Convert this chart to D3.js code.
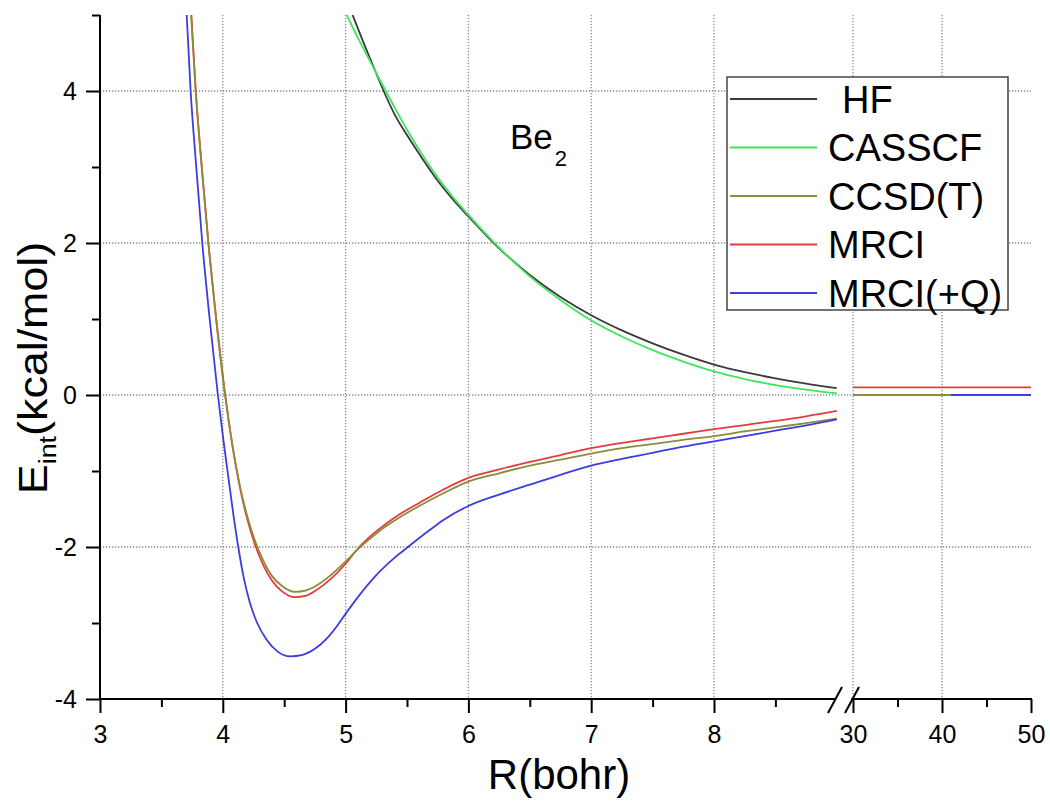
<!DOCTYPE html>
<html>
<head>
<meta charset="utf-8">
<script src="https://cdn.jsdelivr.net/npm/d3@7"></script>
<style>
  html, body { margin: 0; padding: 0; background: #fff; }
  svg { display: block; font-family: "Liberation Sans", Arial, Helvetica, sans-serif; }
</style>
</head>
<body>
<svg id="chart" width="1050" height="803"></svg>
<script>
// ---- data (R in bohr, E in kcal/mol) ----
const seriesNames = ["HF", "CASSCF", "CCSD(T)", "MRCI", "MRCI(+Q)"];
const seriesColors = ["#3a3a3a", "#3ee65a", "#8c8c3c", "#e43c3c", "#3c3ce0"];

const hfShort = [[5.057,5.0],[5.15,4.62],[5.25,4.23],[5.31,4.0],[5.4,3.69],[5.5,3.42],[5.625,3.11],[5.75,2.82],[5.875,2.57],[6.0,2.35],[6.25,1.93],[6.5,1.58],[6.75,1.29],[7.0,1.05],[7.25,0.85],[7.5,0.68],[7.75,0.53],[8.0,0.40],[8.25,0.30],[8.5,0.22],[8.75,0.15],[9.0,0.09]];
const casscfShort = [[5.009,5.0],[5.1,4.70],[5.2,4.39],[5.31,4.05],[5.4,3.78],[5.5,3.49],[5.625,3.16],[5.75,2.86],[5.875,2.60],[6.0,2.37],[6.25,1.94],[6.5,1.56],[6.75,1.25],[7.0,0.98],[7.25,0.77],[7.5,0.59],[7.75,0.44],[8.0,0.31],[8.25,0.21],[8.5,0.13],[8.75,0.07],[9.0,0.02]];
const ccsdtShort = [[3.742,5.0],[3.779,4.0],[3.828,3.0],[3.882,2.0],[3.945,1.0],[4.018,0.0],[4.078,-0.66],[4.138,-1.19],[4.2,-1.60],[4.26,-1.91],[4.33,-2.18],[4.40,-2.38],[4.48,-2.51],[4.588,-2.59],[4.68,-2.57],[4.76,-2.51],[4.88,-2.37],[5.0,-2.19],[5.1,-2.03],[5.2,-1.89],[5.3,-1.76],[5.45,-1.60],[5.6,-1.46],[5.8,-1.29],[6.0,-1.14],[6.25,-1.03],[6.5,-0.93],[6.75,-0.85],[7.0,-0.77],[7.25,-0.70],[7.5,-0.645],[7.75,-0.59],[8.0,-0.54],[8.25,-0.48],[8.5,-0.425],[8.75,-0.37],[9.0,-0.31]];
const mrciShort = [[3.744,5.0],[3.78,4.0],[3.829,3.0],[3.883,2.0],[3.947,1.0],[4.02,0.0],[4.08,-0.68],[4.14,-1.22],[4.2,-1.64],[4.26,-1.96],[4.33,-2.24],[4.40,-2.44],[4.48,-2.58],[4.588,-2.66],[4.68,-2.64],[4.76,-2.57],[4.88,-2.42],[5.0,-2.22],[5.1,-2.02],[5.2,-1.86],[5.3,-1.73],[5.45,-1.56],[5.6,-1.42],[5.8,-1.24],[6.0,-1.09],[6.25,-0.98],[6.5,-0.88],[6.75,-0.79],[7.0,-0.70],[7.25,-0.63],[7.5,-0.57],[7.75,-0.51],[8.0,-0.45],[8.25,-0.395],[8.5,-0.34],[8.75,-0.28],[9.0,-0.21]];
const mrciqShort = [[3.706,5.0],[3.738,4.0],[3.784,3.0],[3.833,2.0],[3.893,1.0],[3.96,0.0],[4.0,-0.53],[4.045,-1.08],[4.085,-1.56],[4.126,-2.0],[4.17,-2.40],[4.22,-2.73],[4.28,-3.0],[4.357,-3.22],[4.45,-3.38],[4.547,-3.44],[4.65,-3.42],[4.75,-3.34],[4.85,-3.20],[4.93,-3.04],[5.0,-2.88],[5.1,-2.66],[5.25,-2.37],[5.4,-2.14],[5.5,-2.01],[5.65,-1.82],[5.8,-1.64],[6.0,-1.46],[6.25,-1.31],[6.5,-1.18],[6.75,-1.05],[7.0,-0.93],[7.25,-0.84],[7.5,-0.76],[7.75,-0.68],[8.0,-0.61],[8.25,-0.54],[8.5,-0.47],[8.75,-0.40],[9.0,-0.32]];

const hfLong = [[30,0],[40,0],[50,0]];
const casscfLong = [[30,0],[40,0],[50,0]];
const ccsdtLong = [[30,0],[40,0],[50,0]];
const mrciLong = [[30,0.1],[40,0.1],[50,0.1]];
const mrciqLong = [[41,0],[50,0]];

const xTicksShort = [3,4,5,6,7,8];
const xMinorShort = [3.5,4.5,5.5,6.5,7.5,8.5];
const xTicksLong = [30,40,50];
const xMinorLong = [35,45];
const yTicks = [-4,-2,0,2,4];
const yMinor = [-3,-1,1,3,5];
const xGridShort = [4,5,6,7,8];
const xGridLong = [30,40];
const yGrid = [-2,0,2,4];

(function draw() {
// ---- layout ----
const svg = d3.select("#chart");
const pLeft = 100, pBottom = 699, pTop = 15;
const x1 = d3.scaleLinear().domain([3, 9]).range([pLeft, 836.8]);
const x2 = d3.scaleLinear().domain([30, 50]).range([853, 1031]);
const y = d3.scaleLinear().domain([-4, 5]).range([pBottom, pTop]);

svg.append("rect").attr("width",1050).attr("height",803).attr("fill","#fff");

const defs = svg.append("defs");
defs.append("clipPath").attr("id","clip1").append("rect")
  .attr("x", pLeft).attr("y", pTop).attr("width", x1(9) - pLeft + 1).attr("height", pBottom - pTop);

// grid
const grid = svg.append("g").attr("stroke","#8a8a8a").attr("stroke-width",1.3)
  .attr("stroke-dasharray","1.3,1.7").attr("fill","none");
xGridShort.forEach(v => grid.append("line").attr("x1",x1(v)).attr("x2",x1(v)).attr("y1",pTop).attr("y2",pBottom));
xGridLong.forEach(v => grid.append("line").attr("x1",x2(v)).attr("x2",x2(v)).attr("y1",pTop).attr("y2",pBottom));
yGrid.forEach(v => grid.append("line").attr("x1",pLeft).attr("x2",x2(50)).attr("y1",y(v)).attr("y2",y(v)));

// curves
const shortSets = [hfShort, casscfShort, mrciShort, ccsdtShort, mrciqShort];
const longSets = [hfLong, casscfLong, ccsdtLong, mrciLong, mrciqLong];
const shortColorIdx = [0,1,3,2,4];
const longColorIdx = [0,1,2,3,4];
const line1 = d3.line().x(d => x1(d[0])).y(d => y(d[1])).curve(d3.curveMonotoneX);
const line2 = d3.line().x(d => x2(d[0])).y(d => y(d[1]));
const curves = svg.append("g").attr("clip-path","url(#clip1)");
shortSets.forEach((s,i) => curves.append("path").attr("d", line1(s)).attr("fill","none")
  .attr("stroke", seriesColors[shortColorIdx[i]]).attr("stroke-width",1.8));
longSets.forEach((s,i) => svg.append("path").attr("d", line2(s)).attr("fill","none")
  .attr("stroke", seriesColors[longColorIdx[i]]).attr("stroke-width",1.8));

// axes
const axisG = svg.append("g").attr("stroke","#000").attr("stroke-width",2);
axisG.append("line").attr("x1",pLeft).attr("x2",pLeft).attr("y1",pTop).attr("y2",pBottom+1);
axisG.append("line").attr("x1",pLeft-1).attr("x2",835).attr("y1",pBottom).attr("y2",pBottom);
axisG.append("line").attr("x1",851).attr("x2",x2(50)+1).attr("y1",pBottom).attr("y2",pBottom);
[835, 852].forEach(c => axisG.append("line").attr("x1",c-7).attr("y1",pBottom+14).attr("x2",c+7).attr("y2",pBottom-12));

const fmt = d => String(d);
function yAxis(vals, size, labels) {
  const a = d3.axisLeft(y).tickValues(vals).tickSize(size).tickSizeOuter(0).tickPadding(9);
  a.tickFormat(labels ? fmt : "");
  const g = svg.append("g").attr("transform",`translate(${pLeft},0)`).call(a);
  g.select(".domain").remove();
  g.selectAll(".tick line").attr("stroke","#000").attr("stroke-width",2);
  g.selectAll(".tick text").attr("font-size",25).attr("font-family","Liberation Sans, Arial, sans-serif").attr("fill","#000");
}
yAxis(yTicks, 14, true);
yAxis(yMinor, 8, false);

function xAxis(sc, vals, size, labels) {
  const a = d3.axisBottom(sc).tickValues(vals).tickSize(size).tickSizeOuter(0).tickPadding(12);
  a.tickFormat(labels ? fmt : "");
  const g = svg.append("g").attr("transform",`translate(0,${pBottom})`).call(a);
  g.select(".domain").remove();
  g.selectAll(".tick line").attr("stroke","#000").attr("stroke-width",2);
  g.selectAll(".tick text").attr("font-size",25).attr("font-family","Liberation Sans, Arial, sans-serif").attr("fill","#000");
}
xAxis(x1, xTicksShort, 14, true);
xAxis(x1, xMinorShort, 8, false);
xAxis(x2, xTicksLong, 14, true);
xAxis(x2, xMinorLong, 8, false);

// axis titles
svg.append("text").attr("x",559).attr("y",789).attr("text-anchor","middle")
  .attr("font-size",42).text("R(bohr)");
const yl = svg.append("text").attr("transform","translate(47,368) rotate(-90) scale(1.12,1)")
  .attr("text-anchor","middle").attr("font-size",40);
yl.append("tspan").text("E");
yl.append("tspan").attr("font-size",24).attr("dy",9).text("int");
yl.append("tspan").attr("dy",-9).text("(kcal/mol)");

// Be2 annotation
const be = svg.append("text").attr("x",510).attr("y",149).attr("font-size",35);
be.append("tspan").text("Be");
be.append("tspan").attr("font-size",22).attr("dy",17).attr("dx",2).text("2");

// legend
const lg = svg.append("g");
lg.append("rect").attr("x",727).attr("y",77).attr("width",281).attr("height",233)
  .attr("fill","#fff").attr("stroke","#444").attr("stroke-width",1.5);
const rowY = d3.scaleLinear().domain([0,4]).range([99,293]);
seriesNames.forEach((n,i) => {
  lg.append("line").attr("x1",730).attr("x2",817).attr("y1",rowY(i)).attr("y2",rowY(i))
    .attr("stroke", seriesColors[i]).attr("stroke-width",1.8);
  lg.append("text").attr("x", i === 0 ? 842 : 828).attr("y", rowY(i) + 13.5)
    .attr("font-size",38).text(n);
});
})();
</script>
</body>
</html>
